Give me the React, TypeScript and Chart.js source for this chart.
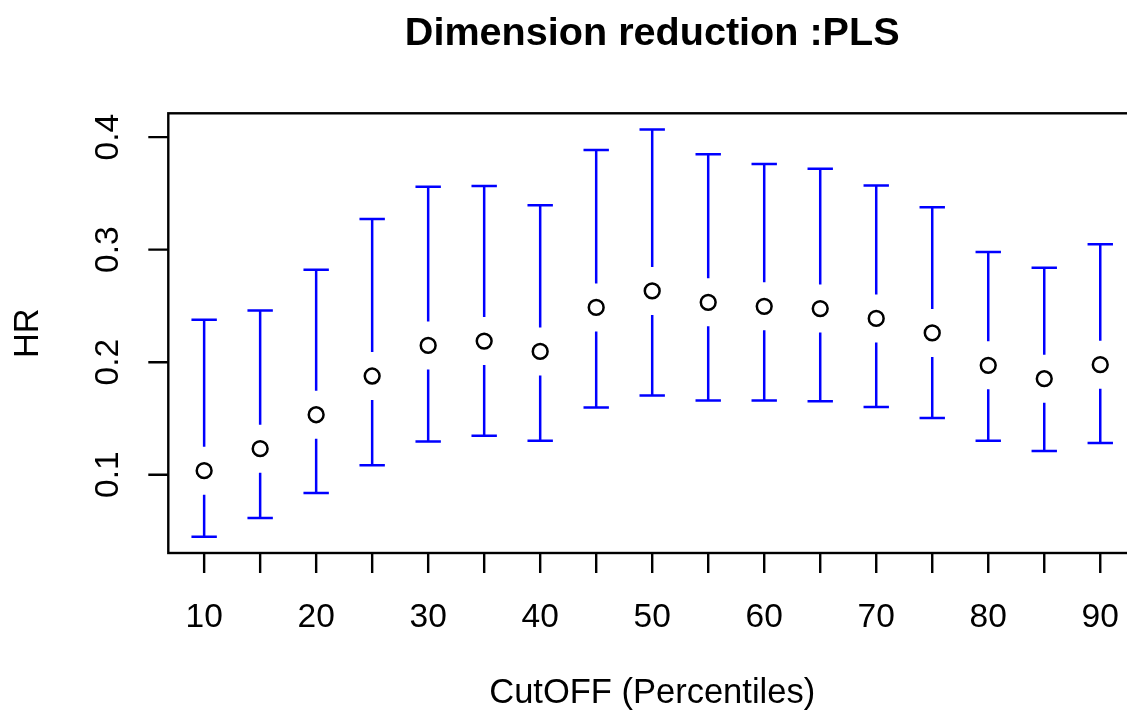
import React, { useEffect, useRef } from "react";
import { Chart, registerables } from "chart.js";

Chart.register(...registerables);

// ---- data ----
const cutoffs = [10, 15, 20, 25, 30, 35, 40, 45, 50, 55, 60, 65, 70, 75, 80, 85, 90];
const hrValues = [0.1036, 0.1231, 0.1533, 0.1877, 0.2149, 0.2188, 0.2096, 0.2487, 0.2633, 0.2532, 0.2496, 0.2476, 0.2389, 0.226, 0.1972, 0.1853, 0.1978];
const upperCI = [0.2378, 0.246, 0.2822, 0.3273, 0.356, 0.3566, 0.3394, 0.3886, 0.4067, 0.3847, 0.3762, 0.372, 0.3569, 0.3376, 0.298, 0.284, 0.3047];
const lowerCI = [0.0449, 0.0615, 0.0837, 0.1083, 0.1296, 0.1347, 0.1302, 0.1598, 0.1705, 0.166, 0.166, 0.1652, 0.1601, 0.1504, 0.1302, 0.1211, 0.1282];
const xTickValues = [10, 15, 20, 25, 30, 35, 40, 45, 50, 55, 60, 65, 70, 75, 80, 85, 90];
const xTickLabels = ["10", "", "20", "", "30", "", "40", "", "50", "", "60", "", "70", "", "80", "", "90"];
const yTickValues = [0.1, 0.2, 0.3, 0.4];
const yTickLabels = ["0.1", "0.2", "0.3", "0.4"];

const titleText = "Dimension reduction :PLS";
const xTitle = "CutOFF (Percentiles)";
const yTitle = "HR";

// R-style 4% axis expansion
const xMinD = Math.min(...cutoffs);
const xMaxD = Math.max(...cutoffs);
const yMinD = Math.min(...lowerCI);
const yMaxD = Math.max(...upperCI);
const X_MIN = xMinD - 0.04 * (xMaxD - xMinD);
const X_MAX = xMaxD + 0.04 * (xMaxD - xMinD);
const Y_MIN = yMinD - 0.04 * (yMaxD - yMinD);
const Y_MAX = yMaxD + 0.04 * (yMaxD - yMinD);

const W = 1146;
const H = 713;
const FONT = '"Liberation Sans", Arial, Helvetica, sans-serif';

const rPlotPlugin = {
  id: "rPlot",
  beforeDatasetsDraw(chart: any) {
    const { ctx, scales } = chart;
    const xs = scales.x;
    const ys = scales.y;
    const gap = 24;
    const capHalf = 12.7;
    ctx.save();
    ctx.strokeStyle = "#0000FF";
    ctx.lineWidth = 2.5;
    ctx.lineCap = "butt";
    for (let i = 0; i < cutoffs.length; i++) {
      const px = xs.getPixelForValue(cutoffs[i]);
      const pc = ys.getPixelForValue(hrValues[i]);
      const pu = ys.getPixelForValue(upperCI[i]);
      const pl = ys.getPixelForValue(lowerCI[i]);
      ctx.beginPath();
      if (pc - gap > pu) {
        ctx.moveTo(px, pc - gap);
        ctx.lineTo(px, pu);
      }
      if (pc + gap < pl) {
        ctx.moveTo(px, pc + gap);
        ctx.lineTo(px, pl);
      }
      ctx.moveTo(px - capHalf, pu);
      ctx.lineTo(px + capHalf, pu);
      ctx.moveTo(px - capHalf, pl);
      ctx.lineTo(px + capHalf, pl);
      ctx.stroke();
    }
    ctx.restore();
  },
  afterDraw(chart: any) {
    const { ctx, scales, chartArea } = chart;
    const xs = scales.x;
    const ys = scales.y;
    const { left, right, top, bottom } = chartArea;
    ctx.save();
    ctx.strokeStyle = "#000";
    ctx.fillStyle = "#000";
    ctx.lineWidth = 2.4;
    // box
    ctx.strokeRect(left, top, right - left, bottom - top);
    // x ticks
    ctx.beginPath();
    xTickValues.forEach((v) => {
      const px = xs.getPixelForValue(v);
      ctx.moveTo(px, bottom);
      ctx.lineTo(px, bottom + 20);
    });
    // y ticks
    yTickValues.forEach((v) => {
      const py = ys.getPixelForValue(v);
      ctx.moveTo(left, py);
      ctx.lineTo(left - 20, py);
    });
    ctx.stroke();

    // x tick labels
    ctx.font = `33.5px ${FONT}`;
    ctx.textAlign = "center";
    ctx.textBaseline = "alphabetic";
    xTickValues.forEach((v, i) => {
      if (xTickLabels[i]) ctx.fillText(xTickLabels[i], xs.getPixelForValue(v), 626.5);
    });
    // y tick labels (rotated)
    yTickValues.forEach((v, i) => {
      const py = ys.getPixelForValue(v);
      ctx.save();
      ctx.translate(117.7, py);
      ctx.rotate(-Math.PI / 2);
      ctx.fillText(yTickLabels[i], 0, 0);
      ctx.restore();
    });
    // axis titles
    ctx.font = `34.5px ${FONT}`;
    const cx = (left + right) / 2;
    ctx.fillText(xTitle, cx, 702.7);
    ctx.save();
    ctx.translate(38.3, (top + bottom) / 2);
    ctx.rotate(-Math.PI / 2);
    ctx.fillText(yTitle, 0, 0);
    ctx.restore();
    // main title
    ctx.font = `bold 39.6px ${FONT}`;
    ctx.fillText(titleText, cx, 44.7);
    ctx.restore();
  },
};

export default function App() {
  const ref = useRef<HTMLCanvasElement | null>(null);
  useEffect(() => {
    if (!ref.current) return;
    const chart = new Chart(ref.current, {
      type: "scatter",
      data: {
        datasets: [
          {
            data: cutoffs.map((c, i) => ({ x: c, y: hrValues[i] })),
            pointStyle: "circle",
            pointRadius: 7.4,
            pointHoverRadius: 7.4,
            borderColor: "#000",
            borderWidth: 2.5,
            backgroundColor: "rgba(0,0,0,0)",
            showLine: false,
          },
        ],
      },
      options: {
        responsive: false,
        devicePixelRatio: 1,
        animation: false,
        events: [],
        layout: {
          padding: { left: 168.3, top: 113.3, right: W - 1137.5, bottom: H - 553 },
        },
        scales: {
          x: { type: "linear", display: false, min: X_MIN, max: X_MAX },
          y: { type: "linear", display: false, min: Y_MIN, max: Y_MAX },
        },
        plugins: {
          legend: { display: false },
          tooltip: { enabled: false },
          title: { display: false },
        },
      },
      plugins: [rPlotPlugin],
    });
    return () => chart.destroy();
  }, []);
  return (
    <div
      style={{
        position: "fixed",
        left: 0,
        top: 0,
        width: 1127,
        height: 713,
        overflow: "hidden",
        background: "#fff",
      }}
    >
      <canvas ref={ref} width={W} height={H} style={{ display: "block", width: W, height: H }} />
    </div>
  );
}
